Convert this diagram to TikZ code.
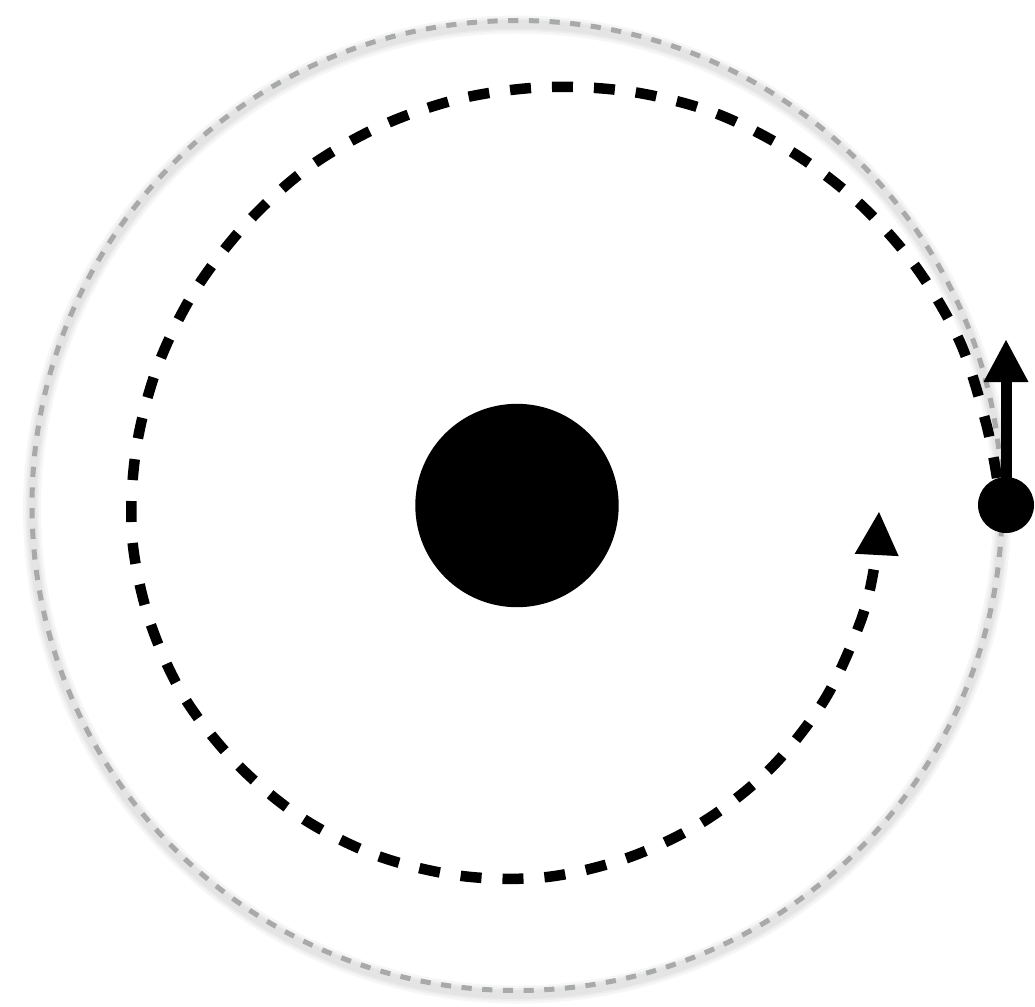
\documentclass[tikz,border=0pt]{standalone}
\usetikzlibrary{arrows.meta}
\definecolor{orbitgray}{RGB}{168,170,170}
\tikzset{
  orbit/.style={draw=orbitgray, line width=5pt, dash pattern=on 10.2pt off 10.5pt},
  orbitshadow/.style={draw=black, line width=#1, opacity=0.035},
  spiral/.style={draw=black, line width=10.5pt, dash pattern=on 21pt off 21pt, line cap=butt,
    -{Triangle[length=43pt,width=44pt,line width=0pt]}},
  velocity/.style={draw=black, line width=11pt, -{Triangle[length=42pt,width=45pt,line width=0pt]}},
}
\begin{document}
\begin{tikzpicture}[x=1pt,y=-1pt]
\useasboundingbox (0,0) rectangle (1035,1006);
\fill[white] (0,0) rectangle (1035,1006);
\coordinate (c) at (517,505.5);
% soft shadow of the outer orbit
\foreach \w in {18pt,13pt,9pt}{
  \draw[orbitshadow=\w] ([yshift=-4pt]c) circle[radius=485];
}
\draw[orbit] (c) circle[radius=485];
% central body
\node (star) [circle, fill=black, minimum size=203.4pt, inner sep=0pt] at (c) {};
% spiralling dashed path
\draw[spiral] plot[smooth, tension=0.55] coordinates {
 (997,478) (986,423) (960,342) (916,267) (859,203) (792,152) (715,113) (633,92)
 (548,87) (463,98) (383,125) (309,167) (246,224) (194,292) (157,368) (136,450)
 (132,536) (149,619) (184,697) (237,764) (302,818) (378,856) (462,876) (547,877)
 (630,857) (706,820) (772,767) (825,699) (860,623) (874,568) (879,512)};
% orbiting body with velocity arrow
\coordinate (vtip) at (1006,340);
\coordinate (bodyc) at (1006,505);
\draw[velocity] (bodyc) -- (vtip);
\node (body) [circle, fill=black, minimum size=56pt, inner sep=0pt] at (bodyc) {};
\end{tikzpicture}
\end{document}
